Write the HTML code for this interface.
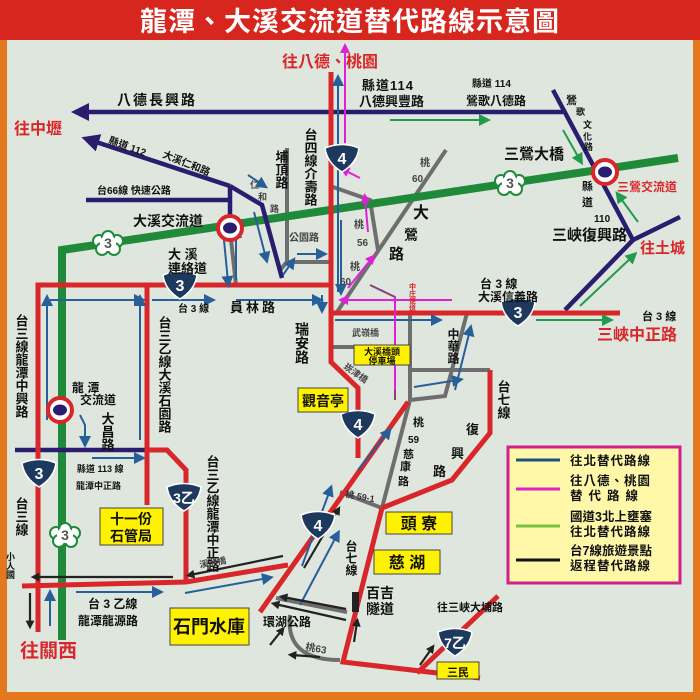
<!DOCTYPE html>
<html><head><meta charset="utf-8"><style>
html,body{margin:0;padding:0;background:#dfe6dd}
svg{display:block}
text{font-family:"Liberation Sans","Noto Sans CJK TC",sans-serif;font-weight:bold}
</style></head><body>
<svg width="700" height="700" viewBox="0 0 700 700" xmlns="http://www.w3.org/2000/svg">
<defs>
<marker id="an" markerWidth="4" markerHeight="4" refX="2" refY="2" orient="auto" markerUnits="strokeWidth"><path d="M0,0 L4,2 L0,4Z" fill="#2a1c6e"/></marker>
<marker id="ab" markerWidth="6" markerHeight="6" refX="3" refY="3" orient="auto" markerUnits="strokeWidth"><path d="M0,0 L6,3 L0,6Z" fill="#275f99"/></marker>
<marker id="am" markerWidth="5" markerHeight="5" refX="2.5" refY="2.5" orient="auto" markerUnits="strokeWidth"><path d="M0,0 L5,2.5 L0,5Z" fill="#e020d8"/></marker>
<marker id="ag" markerWidth="6" markerHeight="6" refX="3" refY="3" orient="auto" markerUnits="strokeWidth"><path d="M0,0 L6,3 L0,6Z" fill="#239a4c"/></marker>
<marker id="ak" markerWidth="4" markerHeight="4" refX="2" refY="2" orient="auto" markerUnits="strokeWidth"><path d="M0,0 L4,2 L0,4Z" fill="#222"/></marker>
<g id="sh"><path d="M-17,-10 Q0,-17 17,-10 Q15,5 0,14 Q-15,5 -17,-10Z" fill="#1d3a5e" stroke="#fff" stroke-width="1.5"/></g>
<g id="fl"><g fill="#fff" stroke="#1f8a3a" stroke-width="2"><circle cx="-9" cy="-2" r="6"/><circle cx="9" cy="-2" r="6"/><circle cx="0" cy="-6" r="6"/><circle cx="-6" cy="6" r="6"/><circle cx="6" cy="6" r="6"/></g><circle r="8" fill="#fff"/></g>
<g id="ic"><circle r="12" fill="#fff" stroke="#d8262a" stroke-width="4"/><ellipse rx="7" ry="5.5" fill="#2a1c6e"/></g>
</defs>
<rect x="0" y="0" width="700" height="700" fill="#e3781e"/>
<rect x="7" y="40" width="686" height="652" fill="#dfe6dd"/>
<rect x="0" y="0" width="700" height="40" fill="#d7261e"/>
<text x="350" y="31" font-size="27" fill="#fff" text-anchor="middle" letter-spacing="1">龍潭、大溪交流道替代路線示意圖</text>

<g stroke="#6e6e6e" stroke-width="4" fill="none">
<path d="M446,150 L337,312"/>
<path d="M333,187 L370,200 L378,250"/>
<path d="M287,148 L287,262 L331,262"/>
<path d="M287,262 L280,270"/>
<path d="M410,313 L410,400 L382,508"/>
<path d="M467,313 L445,396 L410,400"/>
<path d="M410,370 L490,370"/>
<path d="M340,492 L382,508"/>
<path d="M230,230 L236,285"/>
<path d="M276,598 L347,612"/>
<path d="M290,615 Q285,660 340,660"/>
<path d="M331,347 L354,347"/>
</g>
<path d="M370,285 L395,297 L395,400" stroke="#8a3e7a" stroke-width="2" fill="none"/>
<path d="M62,640 L62,250 L678,158" stroke="#1f8a3a" stroke-width="8" fill="none"/>
<g stroke="#2a1c6e" stroke-width="4.5" fill="none">
<path d="M563,112 L80,112" marker-end="url(#an)"/>
<path d="M230,186 L90,140" marker-end="url(#an)"/>
<path d="M230,186 L262,205 L282,278"/>
<path d="M230,186 L230,218"/>
<path d="M86,200 L230,200"/>
<path d="M553,90 L633,240 L680,217"/>
<path d="M633,240 L565,310"/>
<path d="M15,450 L147,450"/>
</g>
<g stroke="#d8262a" stroke-width="5" fill="none">
<path d="M331,72 L331,362 L358,388 L358,458"/>
<path d="M38,632 L38,285 L331,285"/>
<path d="M331,313 L620,313"/>
<path d="M147,285 L147,505"/>
<path d="M147,450 L167,450 L186,470 L186,580"/>
<path d="M22,586 L186,582 L288,565"/>
<path d="M260,612 L408,402"/>
<path d="M382,508 L452,480 L490,433 L490,370"/>
<path d="M382,508 L343,662 L480,678"/>
<path d="M417,673 L498,596"/>
</g>
<rect x="352" y="592" width="7" height="20" fill="#222"/>
<g stroke="#275f99" stroke-width="2" fill="none" marker-end="url(#ab)">
<path d="M47,300 L140,300"/><path d="M152,300 L210,300"/><path d="M236,300 L318,300"/>
<path d="M47,420 L47,300"/><path d="M140,440 L140,300"/>
<path d="M322,295 L322,308"/>
<path d="M338,292 L338,80"/><path d="M341,220 L341,290"/>
<path d="M224,240 L228,282"/><path d="M236,280 L236,232"/>
<path d="M248,175 L263,185"/><path d="M254,212 L266,258"/>
<path d="M283,275 L292,262"/><path d="M297,254 L322,254"/>
<path d="M335,320 L437,320"/>
<path d="M455,390 L470,330"/><path d="M414,387 L458,380"/>
<path d="M358,470 L388,432"/><path d="M302,566 L330,490"/>
<path d="M300,605 L337,535"/>
<path d="M65,412 L52,410"/><path d="M80,415 L85,425 L85,442"/>
<path d="M92,458 L140,458"/><path d="M50,626 L50,595"/>
<path d="M76,592 L158,592"/><path d="M185,593 L268,578"/>
</g>
<g stroke="#e020d8" stroke-width="2" fill="none" marker-end="url(#am)">
<path d="M345,143 L345,48"/><path d="M360,178 L344,170"/>
<path d="M368,232 L365,198"/><path d="M348,288 L372,258"/>
<path d="M452,300 L343,300"/>
</g>
<path d="M395,297 L395,390" stroke="#e020d8" stroke-width="2"/>
<g stroke="#239a4c" stroke-width="2" fill="none" marker-end="url(#ag)">
<path d="M390,120 L485,120"/><path d="M563,130 L580,160"/>
<path d="M638,222 L619,196"/><path d="M580,306 L633,256"/>
<path d="M536,320 L608,320"/>
</g>
<g stroke="#222" stroke-width="2.2" fill="none" marker-end="url(#ak)">
<path d="M173,577 L35,577"/><path d="M283,556 L190,575"/>
<path d="M30,593 L30,625"/><path d="M304,568 L338,510"/>
<path d="M346,609 L283,597"/><path d="M346,620 L275,604"/>
<path d="M320,657 L292,655"/><path d="M270,645 L282,630"/>
<path d="M354,642 L357,622"/><path d="M420,665 L432,648"/>
</g>
<use href="#ic" x="230" y="228"/><use href="#ic" x="605" y="172"/><use href="#ic" x="60" y="410"/>
<use href="#fl" x="108" y="243"/><use href="#fl" x="510" y="183"/><use href="#fl" x="65" y="535"/>
<g font-size="14" fill="#555" font-weight="normal" text-anchor="middle"><text x="108" y="248">3</text><text x="510" y="188">3</text><text x="65" y="540">3</text></g>
<use href="#sh" x="342" y="158"/><use href="#sh" x="180" y="285"/><use href="#sh" x="518" y="312"/>
<use href="#sh" x="39" y="473"/><use href="#sh" x="184" y="497"/><use href="#sh" x="358" y="424"/>
<use href="#sh" x="318" y="525"/><use href="#sh" x="455" y="642"/>
<g font-size="16" fill="#fff" text-anchor="middle" font-weight="normal">
<text x="342" y="164">4</text><text x="180" y="291">3</text><text x="518" y="318">3</text><text x="39" y="479">3</text>
<text x="184" y="503" font-size="14">3乙</text><text x="358" y="430">4</text><text x="318" y="531">4</text><text x="455" y="648" font-size="14">7乙</text>
</g>
<g fill="#fff200" stroke="#444" stroke-width="1">
<rect x="298" y="388" width="50" height="24"/><rect x="354" y="345" width="56" height="20"/>
<rect x="100" y="508" width="63" height="37"/><rect x="386" y="512" width="66" height="22"/>
<rect x="374" y="550" width="66" height="24"/><rect x="170" y="608" width="79" height="37"/>
<rect x="437" y="662" width="42" height="17"/>
</g>
<g fill="#111" text-anchor="middle">
<text x="323" y="406" font-size="14">觀音亭</text>
<text x="382" y="355" font-size="9">大溪橋頭</text><text x="382" y="364" font-size="9">停車場</text>
<text x="131" y="524" font-size="14">十一份</text><text x="131" y="541" font-size="14" font-weight="normal">石管局</text>
<text x="419" y="529" font-size="16">頭 寮</text><text x="407" y="568" font-size="16">慈 湖</text>
<text x="209" y="633" font-size="18" font-weight="normal">石門水庫</text><text x="458" y="676" font-size="11">三民</text>
</g>
<g fill="#d8262a">
<text x="330" y="67" font-size="16" text-anchor="middle">往八德、桃園</text>
<text x="14" y="134" font-size="16">往中壢</text>
<text x="617" y="191" font-size="12">三鶯交流道</text>
<text x="640" y="253" font-size="15">往土城</text>
<text x="597" y="340" font-size="16">三峽中正路</text>
<text x="20" y="657" font-size="19">往關西</text>
<text x="412" y="283" font-size="7" writing-mode="tb">中庄便道</text>
</g>
<g fill="#111">
<text x="117" y="105" font-size="14" letter-spacing="2">八德長興路</text>
<text x="108" y="143" font-size="10" transform="rotate(20 108 143)">縣道 112</text>
<text x="162" y="157" font-size="10" transform="rotate(22 162 157)">大溪仁和路</text>
<text x="97" y="194" font-size="10">台66線 快速公路</text>
<text x="133" y="226" font-size="14">大溪交流道</text>
<text x="168" y="259" font-size="13">大  溪</text><text x="168" y="273" font-size="13">連絡道</text>
<text x="178" y="312" font-size="10">台 3 線</text><text x="230" y="312" font-size="13" letter-spacing="3">員林路</text>
<text x="281" y="150" font-size="13" writing-mode="tb">埔頂路</text>
<text x="310" y="128" font-size="13" writing-mode="tb">台四線介壽路</text>
<text x="250" y="188" font-size="9" font-weight="normal" fill="#444">仁</text><text x="258" y="200" font-size="9" font-weight="normal" fill="#444">和</text><text x="270" y="212" font-size="9" font-weight="normal" fill="#444">路</text>
<text x="289" y="241" font-size="10" font-weight="normal" fill="#444">公園路</text>
<text x="362" y="90" font-size="13" letter-spacing="1">縣道114</text><text x="359" y="106" font-size="13">八德興豐路</text>
<text x="472" y="87" font-size="10">縣道 114</text><text x="466" y="105" font-size="12">鶯歌八德路</text>
<text x="566" y="104" font-size="11">鶯</text><text x="576" y="115" font-size="9" font-weight="normal">歌</text><text x="583" y="128" font-size="9" font-weight="normal">文</text><text x="583" y="140" font-size="9" font-weight="normal">化</text><text x="584" y="150" font-size="9">路</text>
<text x="504" y="159" font-size="15">三鶯大橋</text>
<text x="582" y="190" font-size="11">縣</text><text x="582" y="206" font-size="11">道</text><text x="594" y="222" font-size="10" font-weight="normal">110</text>
<text x="552" y="240" font-size="15">三峽復興路</text>
<text x="480" y="288" font-size="12">台 3 線</text><text x="478" y="301" font-size="12">大溪信義路</text>
<text x="642" y="320" font-size="11">台 3 線</text>
<text x="420" y="166" font-size="10" font-weight="normal" fill="#444">桃</text><text x="412" y="182" font-size="10" font-weight="normal" fill="#444">60</text>
<text x="413" y="218" font-size="16">大</text><text x="404" y="240" font-size="14">鶯</text><text x="389" y="259" font-size="15">路</text>
<text x="354" y="228" font-size="10" font-weight="normal" fill="#444">桃</text><text x="357" y="246" font-size="10" font-weight="normal" fill="#444">56</text>
<text x="350" y="270" font-size="10" font-weight="normal" fill="#444">桃</text><text x="340" y="285" font-size="10" font-weight="normal" fill="#444">60</text>
<text x="352" y="336" font-size="9" font-weight="normal" fill="#444">武嶺橋</text>
<text x="302" y="322" font-size="14" writing-mode="tb">瑞安路</text>
<text x="453" y="328" font-size="12" writing-mode="tb">中華路</text>
<text x="503" y="380" font-size="13" writing-mode="tb">台七線</text>
<text x="343" y="368" font-size="9" font-weight="normal" fill="#444" transform="rotate(35 343 368)">崁津橋</text>
<text x="413" y="426" font-size="11">桃</text><text x="408" y="443" font-size="10" font-weight="normal">59</text>
<text x="403" y="458" font-size="11">慈</text><text x="400" y="470" font-size="11">康</text><text x="398" y="485" font-size="11">路</text>
<text x="466" y="434" font-size="13">復</text><text x="451" y="458" font-size="13">興</text><text x="433" y="476" font-size="13">路</text>
<text x="345" y="497" font-size="9" font-weight="normal" fill="#333" transform="rotate(10 345 497)">桃 59-1</text>
<text x="351" y="540" font-size="12" writing-mode="tb">台七線</text>
<text x="366" y="598" font-size="14">百吉</text><text x="366" y="614" font-size="14">隧道</text>
<text x="437" y="611" font-size="11">往三峽大埔路</text>
<text x="263" y="626" font-size="12">環湖公路</text>
<text x="305" y="650" font-size="10" font-weight="normal" fill="#444" transform="rotate(10 305 650)">桃63</text>
<text x="88" y="608" font-size="12">台 3 乙線</text><text x="78" y="625" font-size="12">龍潭龍源路</text>
<text x="10" y="552" font-size="9" writing-mode="tb">小人國</text>
<text x="21" y="497" font-size="13" writing-mode="tb">台三線</text>
<text x="21" y="314" font-size="13" writing-mode="tb">台三線龍潭中興路</text>
<text x="164" y="316" font-size="13" writing-mode="tb">台三乙線大溪石園路</text>
<text x="212" y="455" font-size="13" writing-mode="tb">台三乙線龍潭中正路</text>
<text x="72" y="392" font-size="12">龍  潭</text><text x="80" y="404" font-size="12">交流道</text>
<text x="107" y="412" font-size="13" writing-mode="tb">大昌路</text>
<text x="77" y="472" font-size="9">縣道 113 線</text><text x="76" y="489" font-size="9">龍潭中正路</text>
<text x="200" y="568" font-size="9" font-weight="normal" fill="#444" transform="rotate(-10 200 568)">溪洲橋</text>
</g>
<rect x="508" y="447" width="172" height="136" fill="#fff8a8" stroke="#d0208a" stroke-width="3"/>
<g stroke-width="3"><path d="M516,460 L560,460" stroke="#1d4f80"/><path d="M516,489 L560,489" stroke="#e020c8"/><path d="M516,526 L560,526" stroke="#7cc040"/><path d="M516,560 L560,560" stroke="#111"/></g>
<g fill="#111" font-size="12.5">
<text x="570" y="465" letter-spacing="1">往北替代路線</text>
<text x="570" y="485" letter-spacing="1">往八德、桃園</text><text x="570" y="500" letter-spacing="6">替代路線</text>
<text x="570" y="521">國道3北上壅塞</text><text x="570" y="536" letter-spacing="1">往北替代路線</text>
<text x="570" y="555">台7線旅遊景點</text><text x="570" y="570" letter-spacing="1">返程替代路線</text>
</g>
</svg>
</body></html>
